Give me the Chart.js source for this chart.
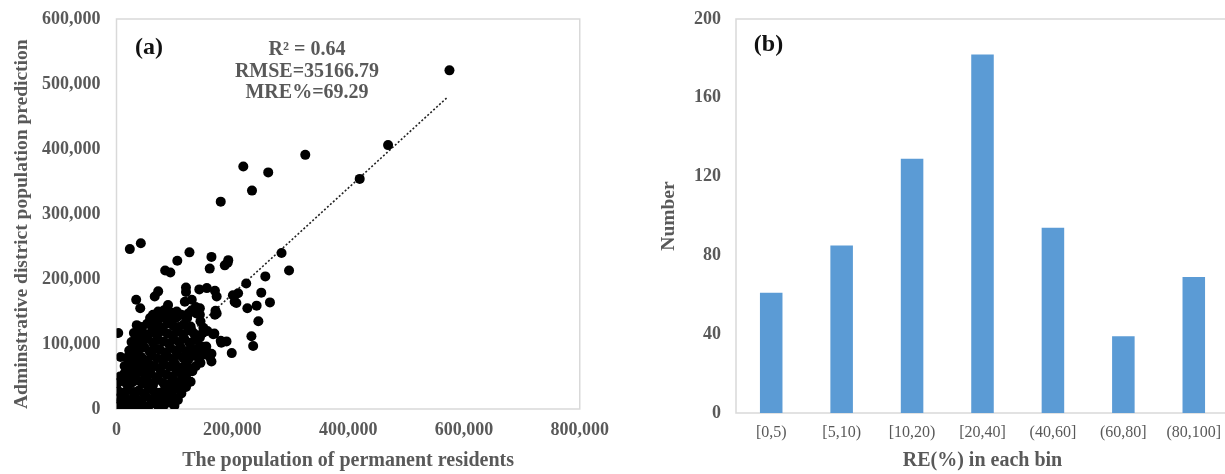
<!DOCTYPE html>
<html><head><meta charset="utf-8">
<script src="https://cdn.jsdelivr.net/npm/chart.js@4"></script>
<style>
html,body{margin:0;padding:0;background:#fff;overflow:hidden;width:1225px;height:474px;position:relative;}
#a{position:absolute;left:0;top:0;width:620px;height:474px;}
#b{position:absolute;left:620px;top:0;width:660px;height:474px;}
</style></head><body>
<div id="a"><canvas id="ca" width="620" height="474"></canvas></div>
<div id="b"><canvas id="cb" width="660" height="474"></canvas></div>
<script>
// ---------- Panel (a): scatter ----------
const residents = [
  575000,326000,219000,262000,234000,180000,469000,420000,285000,126000,
  164000,193000,298000,257000,224000,250000,265000,242000,226000,245000,
  233000,236000,199000,190000,181000,167000,170000,171000,201000,204000,
  164000,164000,143000,156000,170000,173000,120000,120000,130000,118000,
  72000,66000,34000,41000,89000,144000,138000,3000,7000,23000,
  42000,105000,84000,93000,161000,187000,210000,207000,173000,169000,
  155000,149000,77000,70000,121000,128000,161000,144000,112000,98000,
  58000,63000,84000,78000,104000,92000,124000,121000,130000,138000,
  144000,122000,130000,137000,112000,145000,150000,157000,192000,180000,
  3000,10000,18000,27000,36000,45000,55000,64000,73000,82000,92000,100000,
  2000,8000,15000,24000,33000,42000,51000,60000,69000,78000,88000,97000,106000,
  4000,12000,20000,29000,38000,47000,56000,65000,74000,83000,93000,102000,112000,120000,
  2000,10000,18000,27000,36000,45000,54000,63000,72000,81000,90000,99000,108000,117000,126000,
  6000,14000,23000,32000,41000,50000,59000,68000,77000,86000,95000,104000,113000,122000,131000,
  14000,21000,28000,35000,42000,49000,56000,65000,74000,83000,92000,101000,110000,119000,128000,137000,145000,
  18000,24000,30000,36000,43000,52000,61000,70000,79000,88000,97000,106000,115000,124000,133000,142000,150000,
  22000,28000,33000,39000,48000,57000,66000,75000,84000,93000,102000,111000,120000,129000,138000,147000,154000,
  26000,32000,38000,45000,54000,63000,72000,81000,90000,99000,108000,117000,126000,135000,144000,
  30000,36000,43000,52000,61000,70000,79000,88000,97000,106000,115000,124000,133000,140000,
  35000,44000,53000,62000,71000,80000,89000,98000,107000,116000,128000,
  60000,68000,77000,86000,95000,104000,72000,82000,96000
];
const predicted = [
  521000,391000,373000,364000,336000,319000,406000,354000,240000,241000,
  234000,229000,213000,204000,193000,179000,164000,159000,155000,135000,
  112000,97000,86000,104000,102000,115000,145000,151000,175000,165000,
  73000,85000,184000,186000,182000,173000,187000,180000,168000,165000,
  181000,173000,168000,155000,160000,155000,147000,117000,80000,246000,
  255000,228000,213000,210000,216000,221000,178000,163000,147000,116000,
  96000,117000,140000,127000,55000,42000,80000,96000,24000,14000,
  140000,145000,152000,145000,150000,145000,147000,140000,152000,152000,
  145000,140000,150000,157000,145000,135000,125000,120000,225000,105000,
  4000,8000,3000,6000,2000,7000,4000,9000,3000,6000,10000,5000,
  16000,13000,18000,14000,17000,12000,19000,15000,13000,18000,16000,20000,14000,
  27000,25000,30000,26000,28000,24000,31000,27000,25000,29000,26000,31000,28000,34000,
  40000,43000,38000,41000,44000,39000,42000,37000,45000,40000,38000,44000,41000,46000,42000,
  50000,55000,50000,54000,57000,51000,55000,49000,56000,53000,50000,57000,52000,55000,58000,
  66000,63000,68000,64000,67000,62000,69000,66000,63000,68000,65000,70000,64000,68000,62000,66000,71000,
  79000,76000,81000,77000,80000,75000,82000,78000,76000,81000,77000,83000,79000,76000,82000,78000,84000,
  90000,93000,88000,92000,95000,89000,93000,91000,87000,94000,90000,95000,89000,93000,91000,96000,92000,
  103000,106000,101000,105000,108000,102000,106000,104000,101000,107000,103000,108000,102000,106000,110000,
  117000,114000,119000,115000,118000,113000,120000,116000,114000,119000,115000,121000,117000,113000,
  129000,126000,131000,127000,130000,125000,132000,128000,126000,130000,127000,
  140000,137000,142000,139000,136000,141000,150000,152000,148000
];
const trendX = [2000, 572000];
const trendY = [15000, 480000];
const xTickValues = [0, 200000, 400000, 600000, 800000];
const yTickValues = [0, 100000, 200000, 300000, 400000, 500000, 600000];
const statLines = ['R\u00B2 = 0.64', 'RMSE=35166.79', 'MRE%=69.29'];

// ---------- Panel (b): histogram ----------
const bins = ['[0,5)', '[5,10)', '[10,20)', '[20,40]', '(40,60]', '(60,80]', '(80,100]'];
const counts = [61, 85, 129, 182, 94, 39, 69];
const countTickValues = [0, 40, 80, 120, 160, 200];

const FAM = '"Liberation Serif","Times New Roman",serif';
const GRAY = '#595959';

function boxPlugin(withRight) {
  return {
    id: 'box',
    beforeDatasetsDraw(chart) {
      const {ctx, chartArea: a} = chart;
      ctx.save();
      ctx.strokeStyle = '#d9d9d9';
      ctx.lineWidth = 1.5;
      ctx.beginPath();
      if (withRight) {
        ctx.rect(a.left, a.top, a.right - a.left, a.bottom - a.top);
      } else {
        ctx.moveTo(a.right + 2, a.top);
        ctx.lineTo(a.left, a.top);
        ctx.lineTo(a.left, a.bottom);
        ctx.lineTo(a.right + 2, a.bottom);
      }
      ctx.stroke();
      ctx.restore();
    }
  };
}

function textPlugin(panel, px, py, lines, lx, ly, lstep) {
  return {
    id: 'txt' + panel,
    afterDraw(chart) {
      const {ctx, chartArea: a} = chart;
      ctx.save();
      ctx.textAlign = 'center';
      ctx.textBaseline = 'middle';
      ctx.fillStyle = '#111';
      ctx.font = 'bold 24px ' + FAM;
      ctx.fillText(panel, a.left + px, a.top + py);
      ctx.fillStyle = GRAY;
      ctx.font = 'bold 20px ' + FAM;
      lines.forEach((t, i) => ctx.fillText(t, a.left + lx, a.top + ly + i * lstep));
      ctx.restore();
    }
  };
}

const scatterPoints = residents.map((x, i) => ({x, y: predicted[i]}));
const trendPoints = trendX.map((x, i) => ({x, y: trendY[i]}));

new Chart(document.getElementById('ca'), {
  type: 'scatter',
  data: {
    datasets: [
      {data: scatterPoints, backgroundColor: '#000', borderWidth: 0, pointRadius: 5, pointHoverRadius: 5},
      {type: 'line', data: trendPoints, borderColor: '#222', borderWidth: 1.6, borderDash: [2, 2],
       pointRadius: 0, fill: false, showLine: true}
    ]
  },
  options: {
    responsive: false, animation: false, devicePixelRatio: 1,
    layout: {padding: {left: 0, right: 39.5, top: 19, bottom: 0}},
    plugins: {legend: {display: false}, tooltip: {enabled: false}},
    scales: {
      x: {
        type: 'linear', min: 0, max: 800000,
        afterBuildTicks: s => { s.ticks = xTickValues.map(v => ({value: v})); },
        afterFit: s => { s.height = 65; },
        grid: {display: false, drawTicks: false}, border: {display: false},
        ticks: {color: GRAY, padding: 11, maxRotation: 0, font: {family: FAM, size: 18, weight: 'bold'},
                callback: v => v.toLocaleString('en-US')},
        title: {display: true, text: 'The population of permanent residents', color: GRAY,
                font: {family: FAM, size: 20, weight: 'bold'}, padding: {top: 0, bottom: 1}}
      },
      y: {
        type: 'linear', min: 0, max: 600000,
        afterBuildTicks: s => { s.ticks = yTickValues.map(v => ({value: v})); },
        afterFit: s => { s.width = 116.5; s.paddingTop = 0; s.paddingBottom = 0; },
        grid: {display: false, drawTicks: false}, border: {display: false},
        ticks: {color: GRAY, padding: 16, font: {family: FAM, size: 18, weight: 'bold'},
                callback: v => v.toLocaleString('en-US')},
        title: {display: true, text: 'Adminstrative district population prediction', color: GRAY,
                align: 'start',
                font: {family: FAM, size: 19.5, weight: 'bold'}, padding: {top: 10, bottom: 0}}
      }
    }
  },
  plugins: [boxPlugin(true), textPlugin('(a)', 32.5, 29, statLines, 190.5, 31, 21.5)]
});

new Chart(document.getElementById('cb'), {
  type: 'bar',
  data: {
    labels: bins,
    datasets: [{data: counts, backgroundColor: '#5B9BD5', borderWidth: 0,
                barPercentage: 0.32, categoryPercentage: 1}]
  },
  options: {
    responsive: false, animation: false, devicePixelRatio: 1,
    layout: {padding: {left: 0, right: 51, top: 19, bottom: 0}},
    plugins: {legend: {display: false}, tooltip: {enabled: false}},
    scales: {
      x: {
        afterFit: s => { s.height = 61; },
        grid: {display: false, drawTicks: false}, border: {display: false},
        ticks: {color: GRAY, padding: 10, maxRotation: 0, font: {family: FAM, size: 16}},
        title: {display: true, text: 'RE(%) in each bin', color: GRAY,
                font: {family: FAM, size: 20, weight: 'bold'}, padding: {top: 0, bottom: 1}}
      },
      y: {
        min: 0, max: 200,
        afterBuildTicks: s => { s.ticks = countTickValues.map(v => ({value: v})); },
        afterFit: s => { s.width = 116; s.paddingTop = 0; s.paddingBottom = 0; },
        grid: {display: false, drawTicks: false}, border: {display: false},
        ticks: {color: GRAY, padding: 15, font: {family: FAM, size: 18, weight: 'bold'}},
        title: {display: true, text: 'Number', color: GRAY,
                font: {family: FAM, size: 19.5, weight: 'bold'}, padding: {top: 37, bottom: 0}}
      }
    }
  },
  plugins: [boxPlugin(false), textPlugin('(b)', 32.5, 25.5, [], 0, 0, 0)]
});
</script>
</body></html>
